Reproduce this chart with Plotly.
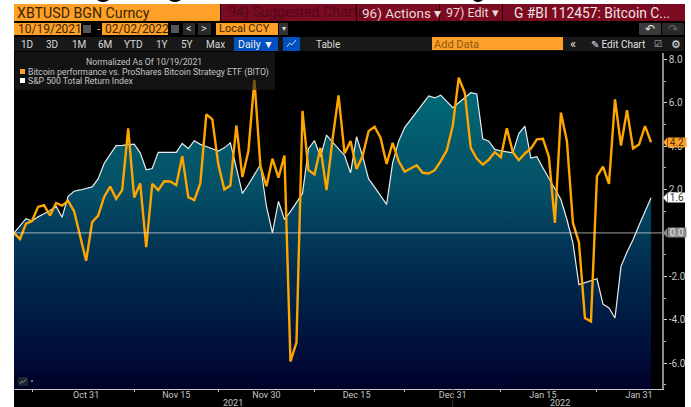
import pandas as pd
import plotly.graph_objects as go

W, H = 691, 407
START = "2021-10-19"
END = "2022-02-02"

bitcoin_vs_bito = [0.0,-0.28,0.43,0.55,1.2,1.28,0.8,1.38,1.26,1.48,1.0,-0.15,-1.28,0.49,0.8,1.66,2.14,1.57,1.97,4.82,
1.63,2.28,-0.65,2.26,1.97,2.38,2.37,2.2,3.54,1.65,1.51,2.28,5.46,5.23,3.15,2.0,2.18,4.95,2.58,3.77,
7.05,3.08,2.15,3.42,2.55,3.57,-5.92,-5.05,5.62,2.89,2.69,3.92,1.97,4.31,6.34,3.66,4.23,2.95,3.54,4.69,
4.89,4.38,3.18,4.15,3.31,2.82,2.97,3.12,2.77,2.74,2.89,3.31,3.8,4.92,7.15,6.46,3.92,3.43,3.15,3.38,
3.72,3.49,4.82,3.72,3.35,3.66,3.88,4.31,4.34,3.51,0.46,5.54,4.23,0.46,-0.43,-3.92,-4.08,2.62,3.05,2.26,
6.15,4.03,5.66,3.89,4.08,4.92,4.18]

sp500_total_return = [0.0,0.35,0.66,0.55,0.74,0.88,1.03,1.23,0.72,1.69,1.92,1.98,2.05,2.12,2.49,3.2,3.62,4.02,4.03,4.06,
4.09,3.69,2.91,2.97,3.71,3.71,3.71,3.71,4.12,3.88,4.25,4.08,3.98,3.88,3.77,3.92,4.15,3.0,1.82,2.23,
2.66,3.14,1.23,0.0,1.46,0.62,0.98,1.38,1.82,3.88,4.25,3.51,4.51,4.18,3.88,3.57,2.77,4.43,3.54,2.49,
2.11,1.72,1.32,3.23,4.23,4.85,5.2,5.58,5.95,6.31,6.22,6.35,6.08,5.77,6.0,6.23,6.46,6.4,4.34,4.23,
3.85,3.78,3.75,3.69,4.58,4.92,3.45,3.51,3.0,2.49,2.0,1.54,0.62,-0.46,-2.38,-2.28,-2.18,-2.11,-3.28,-3.46,
-3.92,-1.54,-0.88,-0.31,0.35,1.0,1.62]

dates = pd.date_range(START, END, freq="D")
y_ticks = [8, 6, 4, 2, 0, -2, -4, -6]
y_tick_labels = ["8.0", "6.0", "4.0", "2.0", "0.0", "-2.0", "-4.0", "-6.0"]
x_tick_dates = ["2021-10-31", "2021-11-15", "2021-11-30", "2021-12-15", "2021-12-31", "2022-01-15", "2022-01-31"]
x_tick_labels = ["Oct 31", "Nov 15", "Nov 30", "Dec 15", "Dec 31", "Jan 15", "Jan 31"]
x_minor_dates = ["2021-10-22", "2021-11-08", "2021-11-22", "2021-12-08", "2021-12-23", "2022-01-08", "2022-01-24"]

Y_MIN, Y_MAX = -7.19, 8.29
ORANGE = "#FFA028"
RED = "#7C0A20"
FONT = "Roboto"

px = lambda x: x / W
py = lambda y: 1 - y / H

fig = go.Figure()
fig.add_trace(go.Scatter(x=dates, y=[Y_MIN] * len(dates), mode="lines", line=dict(width=0),
                         hoverinfo="skip", showlegend=False))
fig.add_trace(go.Scatter(
    x=dates, y=sp500_total_return, mode="lines", name="S&P 500 Total Return Index",
    line=dict(color="#E8ECEE", width=1.2), fill="tonexty",
    fillgradient=dict(type="vertical", start=Y_MIN, stop=6.5, colorscale=[
        [0, "#000028"], [0.087, "#000A36"], [0.233, "#001A42"], [0.379, "#00294C"],
        [0.525, "#033A5A"], [0.671, "#045066"], [0.817, "#03596C"], [1, "#006A78"]]),
    showlegend=False))
fig.add_trace(go.Scatter(
    x=dates, y=bitcoin_vs_bito, mode="lines", name="Bitcoin performance vs. ProShares Bitcoin Strategy ETF (BITO)",
    line=dict(color="#FFA500", width=2.4), showlegend=False))

shapes, notes = [], []


def box(x0, y0, x1, y1, color, layer="below"):
    shapes.append(dict(type="rect", xref="paper", yref="paper", x0=px(x0), x1=px(x1), y0=py(y0), y1=py(y1),
                       fillcolor=color, line=dict(width=0), layer=layer))


def label(text, x, y, size=10, color="#D8D8D8", anchor="left", family=FONT):
    notes.append(dict(text=text, xref="paper", yref="paper", x=px(x), y=py(y), xanchor=anchor, yanchor="middle",
                      showarrow=False, font=dict(family=family, size=size, color=color), borderpad=0))


def icon(x0, y0, x1, y1, color):
    xs = [x0, x0 + (x1 - x0) * .3, x0 + (x1 - x0) * .55, x1]
    ys = [y1, y0 + (y1 - y0) * .45, y0 + (y1 - y0) * .7, y0]
    path = " ".join(f"{'M' if i == 0 else 'L'} {px(a)} {py(b)}" for i, (a, b) in enumerate(zip(xs, ys)))
    shapes.append(dict(type="path", xref="paper", yref="paper", path=path, line=dict(color=color, width=1), layer="above"))


# frame
box(14, 4, 685, 407, "#000000")

# clipped descenders of the cut-off heading above the screenshot
for cx, half in ((103, 6), (175, 6), (478, 5)):
    shapes.append(dict(type="circle", xref="paper", yref="paper", x0=px(cx - half), x1=px(cx + half),
                       y0=py(2), y1=py(-4), fillcolor="#000000", line=dict(width=0), layer="below"))

# title row
box(14, 4, 220, 21, ORANGE)
label("XBTUSD BGN Curncy", 16, 13, 14.2, "#3A2500")
box(221, 4, 685, 21, RED)
label("94) Suggested Charts", 227, 13, 14.2, "#4E0A1C")
label("96) Actions ▾", 361, 13, 13.5, "#E8D8D8")
label("97) Edit ▾", 445, 13, 12.5, "#E8D8D8")
label("G #BI 112457: Bitcoin C...", 513, 13, 13.8, "#F0E4E4")
for sep in (356, 439, 502):
    box(sep, 4, sep + 1, 21, "#200008")

# date row
box(14, 23, 81, 35, ORANGE)
label("10/19/2021", 17, 29, 12, "#3A2500")
box(83, 25, 91, 33, "#555555")
label("-", 96, 29, 12, ORANGE)
box(102, 23, 168, 35, ORANGE)
label("02/02/2022", 104, 29, 12, "#3A2500")
box(171, 25, 179, 33, "#555555")
box(183, 23, 195, 35, "#2A2A2A")
label("<", 189, 29, 11, "#DDDDDD", "center")
box(198, 23, 211, 35, "#2A2A2A")
label(">", 204, 29, 11, "#DDDDDD", "center")
box(216, 23, 278, 35, ORANGE)
label("Local CCY", 218, 29, 11, "#3A2500")
box(279, 23, 288, 35, "#333333")
label("▾", 283.5, 29, 8, "#DDDDDD", "center")
box(639, 23, 661, 35, "#3A3A3A")
label("↶", 650, 29, 12, "#E0E0E0", "center")
box(662, 23, 684, 35, "#2A2A2A")
label("↷", 673, 29, 12, "#666666", "center")

# range row
box(14, 37, 684, 51, "#181818")
for txt, cx in zip(["1D", "3D", "1M", "6M", "YTD", "1Y", "5Y", "Max"], [27, 52, 79, 105, 133, 162, 187, 216]):
    label(txt, cx, 44, 10, "#D8D8D8", "center")
box(234, 37, 278, 51, "#0050C0")
label("Daily ▼", 256, 44, 10.5, "#F0F0F0", "center")
box(283, 37, 300, 51, "#0050C0")
icon(287, 40, 296, 47, "#BBD4FF")
label("Table", 328, 44, 10, "#D8D8D8", "center")
box(432, 37, 563, 50, ORANGE)
label("Add Data", 433, 44, 11, "#8A5A10")
label("«", 573, 43, 13, "#DDDDDD", "center")
label("✎ Edit Chart", 590, 44, 10, "#E0E0E0")
label("☑", 658, 44, 9, "#BBBBBB", "center")
label("⚙", 676, 44, 11, "#E0E0E0", "center")

# legend block
box(15, 52, 275, 90, "rgba(32,32,32,0.6)", "above")
label("Normalized As Of 10/19/2021", 144, 62, 8.7, "#C4C4C4", "center")
box(20, 69, 25, 74, ORANGE, "above")
label("Bitcoin performance vs. ProShares Bitcoin Strategy ETF (BITO)", 27, 72, 8.7, "#C4C4C4")
box(20, 78, 25, 83, "#FFFFFF", "above")
label("S&P 500 Total Return Index", 27, 81, 8.7, "#C4C4C4")

# zero line
shapes.append(dict(type="line", xref="paper", yref="y", x0=px(14), x1=px(662), y0=0, y1=0,
                   line=dict(color="rgba(235,235,235,0.55)", width=1.2), layer="above"))


# value tags
def tag(value, fill, text_color):
    shapes.append(dict(type="path", xref="paper", yref="y", layer="above", fillcolor=fill, line=dict(width=0),
                       path=f"M {px(663)} {value} L {px(667)} {value + 0.21} L {px(667)} {value - 0.21} Z"))
    notes.append(dict(text=f"{round(value, 1):.1f}", xref="paper", yref="y", x=px(667), y=value,
                      xanchor="left", yanchor="middle", width=18, height=9, align="center", borderpad=0, bgcolor=fill,
                      showarrow=False, font=dict(family=FONT, size=10, color=text_color)))


tag(0.0, "#8C8C8C", "#E4E4E4")
tag(sp500_total_return[-1], "#FFFFFF", "#333333")
tag(bitcoin_vs_bito[-1], ORANGE, "#4A3000")

# small chart icon, years
box(18, 377, 28, 386, "#1C2230", "above")
icon(20, 379, 26, 384, "#888888")
box(31, 380, 33, 382, "#777777", "above")
label("2021", 233, 403, 9, "#C8C8C8", "center")
label("2022", 560, 403, 9, "#C8C8C8", "center")
shapes.append(dict(type="line", xref="x", yref="paper", x0="2021-12-31", x1="2021-12-31",
                   y0=py(389), y1=py(407), line=dict(color="#333333", width=1), layer="above"))

x_end = pd.Timestamp(START) + pd.Timedelta(days=(662 - 14) / 6.01)
fig.update_layout(
    width=W, height=H, margin=dict(l=0, r=0, t=0, b=0), paper_bgcolor="#FFFFFF", plot_bgcolor="#000000",
    showlegend=False, shapes=shapes, annotations=notes, font=dict(family=FONT),
    xaxis=dict(domain=[px(14), px(662)], range=[START, x_end], type="date", showgrid=False, zeroline=False,
               tickvals=x_tick_dates, ticktext=x_tick_labels, ticks="", ticklen=0, ticklabelstandoff=-3,
               tickfont=dict(family=FONT, size=9, color="#C8C8C8"),
               showline=True, linecolor="#C8C8C8", linewidth=1.2,
               minor=dict(tickvals=x_minor_dates, ticks="outside", ticklen=2, tickcolor="#C8C8C8", showgrid=False)),
    yaxis=dict(domain=[py(389), py(53)], range=[Y_MIN, Y_MAX], side="right", showgrid=False, zeroline=False,
               tickvals=y_ticks, ticktext=y_tick_labels, ticks="outside", ticklen=3, tickcolor="#D8D8D8",
               tickfont=dict(family=FONT, size=10, color="#C8C8C8"),
               showline=True, linecolor="#8A8A8A", linewidth=1.5,
               minor=dict(dtick=1, ticks="outside", ticklen=2, tickcolor="#BBBBBB", showgrid=False)),
)
fig.write_html("out.html", config={"displayModeBar": False},
               post_script="document.body.style.margin='0';document.body.style.overflow='hidden';")
